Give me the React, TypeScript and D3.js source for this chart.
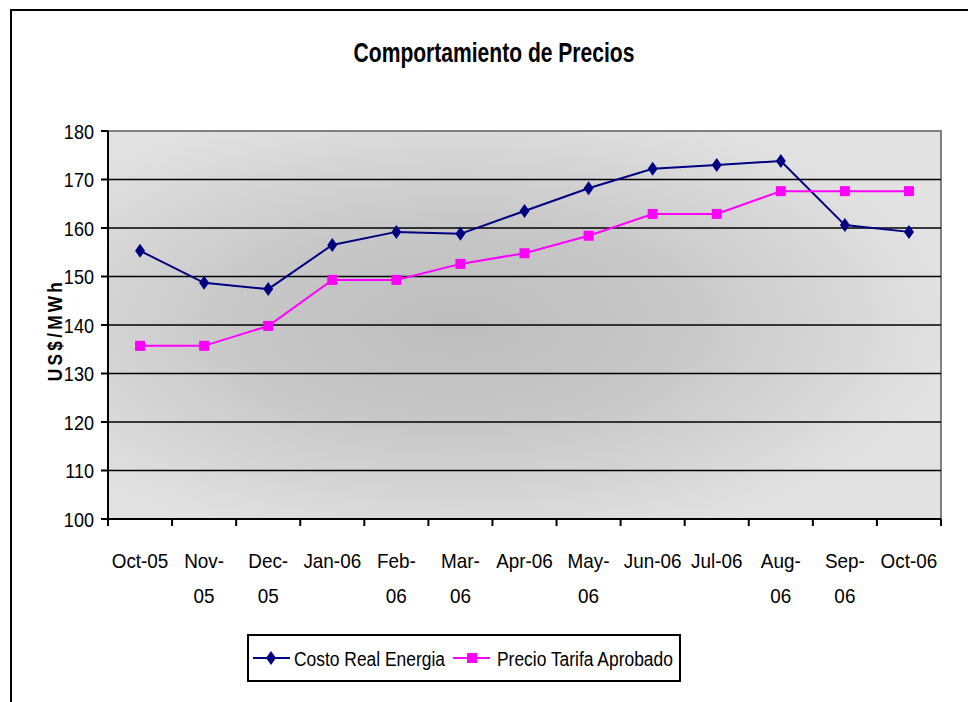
import React from 'react';
import * as d3 from 'd3';

const months = ['Oct-05', 'Nov-05', 'Dec-05', 'Jan-06', 'Feb-06', 'Mar-06', 'Apr-06', 'May-06', 'Jun-06', 'Jul-06', 'Aug-06', 'Sep-06', 'Oct-06'];
// how each tick label wraps in the original
const monthLines = [['Oct-05'], ['Nov-', '05'], ['Dec-', '05'], ['Jan-06'], ['Feb-', '06'], ['Mar-', '06'], ['Apr-06'], ['May-', '06'], ['Jun-06'], ['Jul-06'], ['Aug-', '06'], ['Sep-', '06'], ['Oct-06']];
const costoReal = [155.3, 148.7, 147.4, 156.5, 159.2, 158.8, 163.5, 168.2, 172.2, 173.0, 173.8, 160.6, 159.2];
const precioTarifa = [135.7, 135.7, 139.8, 149.3, 149.3, 152.6, 154.8, 158.4, 162.9, 162.9, 167.6, 167.6, 167.6];
const yTicks = [100, 110, 120, 130, 140, 150, 160, 170, 180];

const FONT = "'Liberation Sans', Arial, sans-serif";
const BLUE = '#000080';
const PINK = '#FF00FF';

// no narrow font installed, so squeeze Liberation Sans horizontally
function NText({ x, y, sx, anchor = 'start', size, bold = false, children }: any) {
  return (
    <text transform={`translate(${x},${y}) scale(${sx},1)`} textAnchor={anchor} fontFamily={FONT}
      fontSize={size} fontWeight={bold ? 'bold' : 'normal'}>{children}</text>
  );
}

export default function App() {
  const width = 968, height = 702;
  const left = 108, right = 941, top = 131, bottom = 519;

  const x = d3.scaleBand<string>().domain(months).range([left, right]);
  const y = d3.scaleLinear().domain([100, 180]).range([bottom, top]);
  const cx = (i: number) => (x(months[i]) as number) + x.bandwidth() / 2;

  const line = d3.line<number>().x((_, i) => cx(i)).y(d => y(d));

  const diamond = (px: number, py: number) => `M${px},${py - 7}L${px + 5},${py}L${px},${py + 7}L${px - 5},${py}Z`;

  return (
    <svg width={width} height={height} style={{ position: 'absolute', left: 0, top: 0, background: '#fff' }}>
      <defs>
        <radialGradient id="bg" cx="0.42" cy="0.5" r="0.6">
          <stop offset="0" stopColor="#bdbdbd" />
          <stop offset="0.45" stopColor="#c8c8c8" />
          <stop offset="1" stopColor="#e2e2e2" />
        </radialGradient>
      </defs>
      <rect x={11} y={10} width={970} height={700} fill="#fff" stroke="#000" strokeWidth={2} />

      <NText x={494} y={62} sx={0.78} anchor="middle" size={27} bold>Comportamiento de Precios</NText>

      {/* plot area */}
      <rect x={left} y={top} width={right - left} height={bottom - top} fill="url(#bg)" stroke="#808080" strokeWidth={2} />
      {yTicks.filter(t => t > 100 && t < 180).map(t => (
        <line key={t} x1={left} x2={right} y1={y(t)} y2={y(t)} stroke="#000" strokeWidth={1.5} />
      ))}

      {/* y axis */}
      <line x1={left} x2={left} y1={top} y2={bottom} stroke="#000" strokeWidth={2} />
      {yTicks.map(t => (
        <g key={t}>
          <line x1={left - 7} x2={left} y1={y(t)} y2={y(t)} stroke="#000" strokeWidth={2} />
          <NText x={94} y={y(t) + 7.5} sx={0.86} anchor="end" size={21}>{t}</NText>
        </g>
      ))}
      <text transform={`translate(62,330) rotate(-90) scale(0.82,1)`} textAnchor="middle" fontFamily={FONT} fontWeight="bold" fontSize={21} letterSpacing={4}>US$/MWh</text>

      {/* x axis */}
      <line x1={left} x2={right} y1={bottom} y2={bottom} stroke="#000" strokeWidth={2} />
      {months.map(m => (
        <line key={m} x1={x(m) as number} x2={x(m) as number} y1={bottom} y2={bottom + 7} stroke="#000" strokeWidth={2} />
      ))}
      <line x1={right} x2={right} y1={bottom} y2={bottom + 7} stroke="#000" strokeWidth={2} />
      {monthLines.map((ls, i) => (
        <g key={i}>
          {ls.map((s, j) => (
            <NText key={j} x={cx(i)} y={568 + j * 35} sx={0.9} anchor="middle" size={21}>{s}</NText>
          ))}
        </g>
      ))}

      {/* series */}
      <path d={line(costoReal) as string} fill="none" stroke={BLUE} strokeWidth={2} />
      {costoReal.map((v, i) => <path key={i} d={diamond(cx(i), y(v))} fill={BLUE} />)}
      <path d={line(precioTarifa) as string} fill="none" stroke={PINK} strokeWidth={2} />
      {precioTarifa.map((v, i) => <rect key={i} x={cx(i) - 5} y={y(v) - 5} width={10} height={10} fill={PINK} />)}

      {/* legend */}
      <rect x={248} y={635} width={432} height={46} fill="#fff" stroke="#000" strokeWidth={2} />
      <line x1={253} x2={290} y1={658} y2={658} stroke={BLUE} strokeWidth={2} />
      <path d={diamond(271, 658)} fill={BLUE} />
      <NText x={294} y={666} sx={0.83} size={21}>Costo Real Energia</NText>
      <line x1={453} x2={490} y1={658} y2={658} stroke={PINK} strokeWidth={2} />
      <rect x={467} y={653} width={10} height={10} fill={PINK} />
      <NText x={497} y={666} sx={0.83} size={21}>Precio Tarifa Aprobado</NText>
    </svg>
  );
}
